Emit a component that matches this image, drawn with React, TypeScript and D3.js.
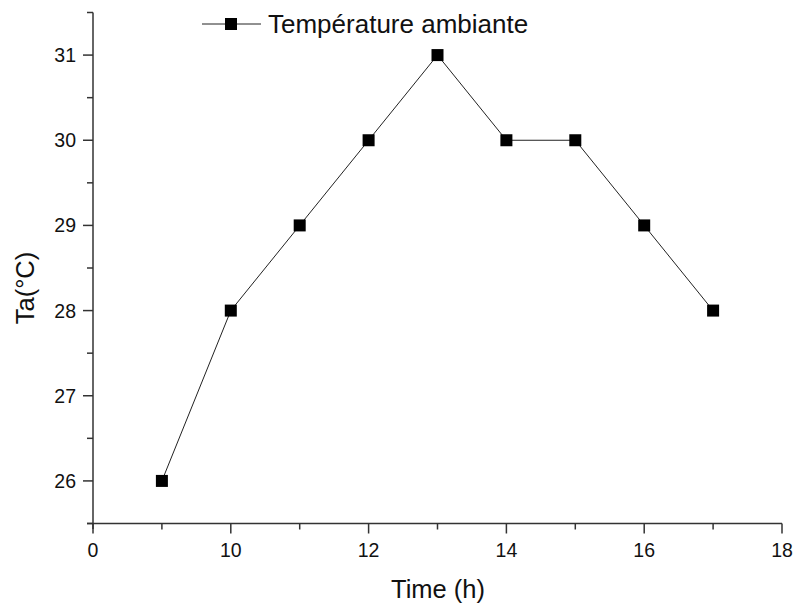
import React, { useEffect, useRef } from 'react';
import * as d3 from 'd3';

const hours = [9, 10, 11, 12, 13, 14, 15, 16, 17];
const temps = [26, 28, 29, 30, 31, 30, 30, 29, 28];
const xTicks = [8, 10, 12, 14, 16, 18];
const xTickLabels = ['0', '10', '12', '14', '16', '18'];
const yTicks = [26, 27, 28, 29, 30, 31];
const seriesName = 'Température ambiante';

export default function App() {
  const ref = useRef<SVGSVGElement>(null);

  useEffect(() => {
    const svg = d3.select(ref.current);
    svg.selectAll('*').remove();
    const font = '"Liberation Sans", Arial, sans-serif';

    const x = d3.scaleLinear().domain([8, 18]).range([93, 782]);
    const y = d3.scaleLinear().domain([25.5, 31.5]).range([523.5, 12.5]);
    const axisColor = '#333';

    // x axis
    const gx = svg.append('g').attr('transform', 'translate(0,523.5)');
    gx.append('line').attr('x1', 87).attr('x2', 782).attr('stroke', axisColor).attr('stroke-width', 1.5);
    xTicks.forEach((t, i) => {
      gx.append('line').attr('x1', x(t)).attr('x2', x(t)).attr('y1', 0).attr('y2', 10)
        .attr('stroke', axisColor).attr('stroke-width', 1.5);
      gx.append('text').attr('x', x(t)).attr('y', 33.5).attr('text-anchor', 'middle')
        .attr('font-family', font).attr('font-size', 19.5).attr('fill', '#111').text(xTickLabels[i]);
    });
    d3.range(9, 18, 2).forEach(t => {
      gx.append('line').attr('x1', x(t)).attr('x2', x(t)).attr('y1', 0).attr('y2', 6)
        .attr('stroke', axisColor).attr('stroke-width', 1.5);
    });

    // y axis
    const gy = svg.append('g').attr('transform', 'translate(93,0)');
    gy.append('line').attr('y1', 12.5).attr('y2', 529).attr('stroke', axisColor).attr('stroke-width', 1.5);
    yTicks.forEach(t => {
      gy.append('line').attr('x1', -10).attr('x2', 0).attr('y1', y(t)).attr('y2', y(t))
        .attr('stroke', axisColor).attr('stroke-width', 1.5);
      gy.append('text').attr('x', -17).attr('y', y(t)).attr('dy', '0.36em').attr('text-anchor', 'end')
        .attr('font-family', font).attr('font-size', 19.5).attr('fill', '#111').text(t);
    });
    d3.range(25.5, 31.6, 1).forEach(t => {
      gy.append('line').attr('x1', -6).attr('x2', 0).attr('y1', y(t)).attr('y2', y(t))
        .attr('stroke', axisColor).attr('stroke-width', 1.5);
    });

    // axis titles
    svg.append('text').attr('x', 438).attr('y', 598).attr('text-anchor', 'middle')
      .attr('font-family', font).attr('font-size', 25.5).attr('fill', '#111').text('Time (h)');
    svg.append('text').attr('transform', 'translate(34,288) rotate(-90)').attr('text-anchor', 'middle')
      .attr('font-family', font).attr('font-size', 25.5).attr('fill', '#111').text('Ta(°C)');

    // series
    const pts = hours.map((h, i) => [h, temps[i]] as [number, number]);
    const line = d3.line<[number, number]>().x(d => x(d[0])).y(d => y(d[1]));
    svg.append('path').attr('d', line(pts)).attr('fill', 'none').attr('stroke', '#222').attr('stroke-width', 1);
    svg.append('g').selectAll('rect').data(pts).enter().append('rect')
      .attr('x', d => x(d[0]) - 6).attr('y', d => y(d[1]) - 6)
      .attr('width', 12).attr('height', 12).attr('fill', '#000');

    // legend
    const lg = svg.append('g');
    lg.append('line').attr('x1', 202).attr('x2', 261).attr('y1', 24).attr('y2', 24).attr('stroke', '#222').attr('stroke-width', 1);
    lg.append('rect').attr('x', 225).attr('y', 18).attr('width', 12).attr('height', 12).attr('fill', '#000');
    lg.append('text').attr('x', 268).attr('y', 33)
      .attr('font-family', font).attr('font-size', 26).attr('fill', '#111').text(seriesName);
  }, []);

  return (
    <svg ref={ref} width={797} height={608}
      style={{ position: 'absolute', left: 0, top: 0, overflow: 'visible' }} />
  );
}
